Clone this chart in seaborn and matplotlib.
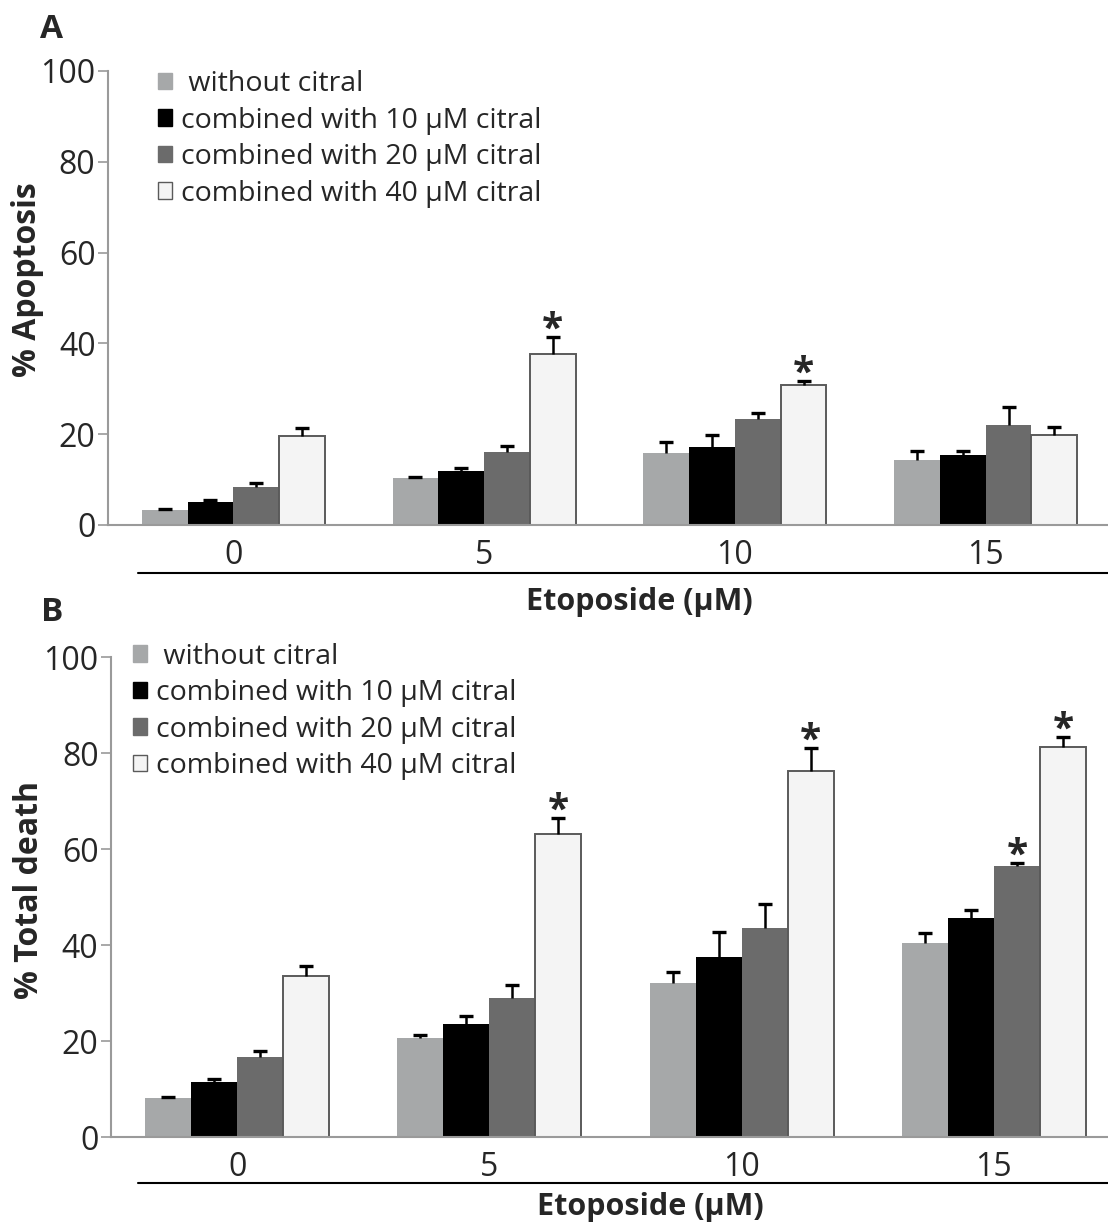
import numpy as np
import pandas as pd
import matplotlib
matplotlib.use("Agg")
import matplotlib.pyplot as plt
import seaborn as sns
from matplotlib.patches import Patch

# ---------------- data ----------------
etoposide = ["0", "5", "10", "15"]
treatments = [" without citral", "combined with 10 μM citral",
              "combined with 20 μM citral", "combined with 40 μM citral"]
colors = ["#a6a8a9", "#000000", "#6b6b6b", "#f4f4f4"]

apop_without = [3.2, 10.3, 15.8, 14.4]
apop_c10 = [5.0, 12.0, 17.2, 15.4]
apop_c20 = [8.4, 16.1, 23.4, 22.0]
apop_c40 = [19.6, 37.6, 30.9, 19.8]
apop_err_without = [0.3, 0.3, 2.4, 2.0]
apop_err_c10 = [0.6, 0.6, 2.6, 1.0]
apop_err_c20 = [0.75, 1.3, 1.3, 4.1]
apop_err_c40 = [1.7, 3.8, 0.8, 1.8]
apop_stars = [(1, 3), (2, 3)]

death_without = [8.1, 20.6, 32.1, 40.5]
death_c10 = [11.4, 23.6, 37.4, 45.6]
death_c20 = [16.6, 29.0, 43.5, 56.4]
death_c40 = [33.6, 63.1, 76.2, 81.2]
death_err_without = [0.3, 0.6, 2.2, 1.9]
death_err_c10 = [0.7, 1.6, 5.4, 1.6]
death_err_c20 = [1.3, 2.7, 5.0, 0.6]
death_err_c40 = [2.1, 3.3, 4.9, 2.1]
death_stars = [(1, 3), (2, 3), (3, 2), (3, 3)]

yticks = [0, 20, 40, 60, 80, 100]

sns.set_style("white")
plt.rcParams["font.family"] = ["Open Sans", "DejaVu Sans"]
BOLD = ["Open Sans", "DejaVu Sans"]
GRAY = "#9a9a9a"

W, H = 1108, 1227
fig = plt.figure(figsize=(W / 100, H / 100), dpi=100)


def make_df(series):
    rows = []
    for t, vals in zip(treatments, series):
        for e, v in zip(etoposide, vals):
            rows.append({"etoposide": e, "treatment": t, "value": v})
    return pd.DataFrame(rows)


def panel(rect, series, errs, stars, ylabel, ylabel_xy, letter, letter_xy,
          line_y, line_x0, xlab_xy, leg_anchor):
    ax = fig.add_axes(rect)
    df = make_df(series)
    sns.barplot(data=df, x="etoposide", y="value", hue="treatment",
                order=etoposide, hue_order=treatments, palette=colors,
                saturation=1, width=0.73, errorbar=None, legend=False,
                linewidth=0, ax=ax)
    bar_conts = list(ax.containers)
    # error bars and stars from bar geometry
    for hi, cont in enumerate(bar_conts):
        xs, hs = [], []
        for bar in cont:
            xs.append(bar.get_x() + bar.get_width() / 2)
            hs.append(bar.get_height())
            if hi == 3:
                bar.set_edgecolor("#5a5a5a")
                bar.set_linewidth(1.4)
        e = errs[hi]
        _, caps, _ = ax.errorbar(xs, hs, yerr=[np.zeros(len(e)), e],
                                 fmt="none", ecolor="black", elinewidth=1.8,
                                 capsize=5, capthick=2.4, zorder=4)
        if len(caps) == 2:
            caps[0].set_visible(False)  # no cap at bar top, only upper cap
        for (gi, si) in stars:
            if si == hi:
                ax.annotate("*", (xs[gi], hs[gi] + e[gi]),
                            xytext=(0, -9), textcoords="offset points",
                            ha="center", va="bottom", fontsize=28,
                            fontweight="bold", family=BOLD)
    ax.set_xlim(-0.5, 3.5)
    ax.set_ylim(0, 100)
    ax.set_yticks(yticks)
    ax.set_xticks(range(4))
    ax.set_xticklabels(etoposide)
    ax.set_xticks([-0.5, 0.5, 1.5, 2.5, 3.5], minor=True)
    ax.tick_params(axis="x", which="major", length=0, pad=10, labelsize=23)
    ax.tick_params(axis="x", which="minor", length=7, width=1.2, color=GRAY)
    ax.tick_params(axis="y", length=7, width=1.2, color=GRAY, labelsize=23,
                   pad=2, left=True)
    for s in ["top", "right"]:
        ax.spines[s].set_visible(False)
    for s in ["left", "bottom"]:
        ax.spines[s].set_color(GRAY)
        ax.spines[s].set_linewidth(1.5)
    ax.set_xlabel("")
    ax.set_ylabel("")
    # underline + axis title
    ax.plot([line_x0, 1.02], [line_y, line_y], transform=ax.transAxes,
            clip_on=False, color="black", lw=1.5)
    ax.text(xlab_xy[0], xlab_xy[1], "Etoposide (μM)", transform=ax.transAxes,
            ha="center", va="center", fontsize=22, fontweight="bold",
            family=BOLD)
    fig.text(ylabel_xy[0], ylabel_xy[1], ylabel, rotation=90, ha="center",
             va="center", fontsize=23, fontweight="bold", family=BOLD)
    fig.text(letter_xy[0], letter_xy[1], letter, ha="center", va="center",
             fontsize=24, fontweight="bold", family=BOLD)
    # legend
    handles = []
    for c in colors:
        ec = "#5a5a5a" if c == colors[3] else c
        handles.append(Patch(facecolor=c, edgecolor=ec, linewidth=1.0))
    ax.legend(handles, treatments, loc="upper left", bbox_to_anchor=leg_anchor,
              frameon=False, fontsize=20.5, handlelength=0.5,
              handleheight=0.5, handletextpad=0.3, labelspacing=0.3,
              borderpad=0, borderaxespad=0)
    return ax


# panel A: axis 108..1111 px horizontally, 71..525 px vertically
axA = panel([108 / W, 1 - 525 / H, 1003 / W, 454 / H],
            [apop_without, apop_c10, apop_c20, apop_c40],
            [apop_err_without, apop_err_c10, apop_err_c20, apop_err_c40],
            apop_stars, "% Apoptosis", (28 / W, 1 - 280 / H),
            "A", (52 / W, 1 - 30 / H),
            -(572.7 - 525) / 454, 0.03, (0.53, -(602 - 525) / 454),
            (0.05, 1.002))

# panel B: axis 111..1120 px horizontally, 657..1137 px vertically
axB = panel([111 / W, 1 - 1137 / H, 1009 / W, 480 / H],
            [death_without, death_c10, death_c20, death_c40],
            [death_err_without, death_err_c10, death_err_c20, death_err_c40],
            death_stars, "% Total death", (30 / W, 1 - 890 / H),
            "B", (52 / W, 1 - 612 / H),
            -(1183 - 1137) / 480, 0.027, (0.535, -(1207 - 1137) / 480),
            (0.022, 1.03))

fig.savefig("out.png", dpi=100)
